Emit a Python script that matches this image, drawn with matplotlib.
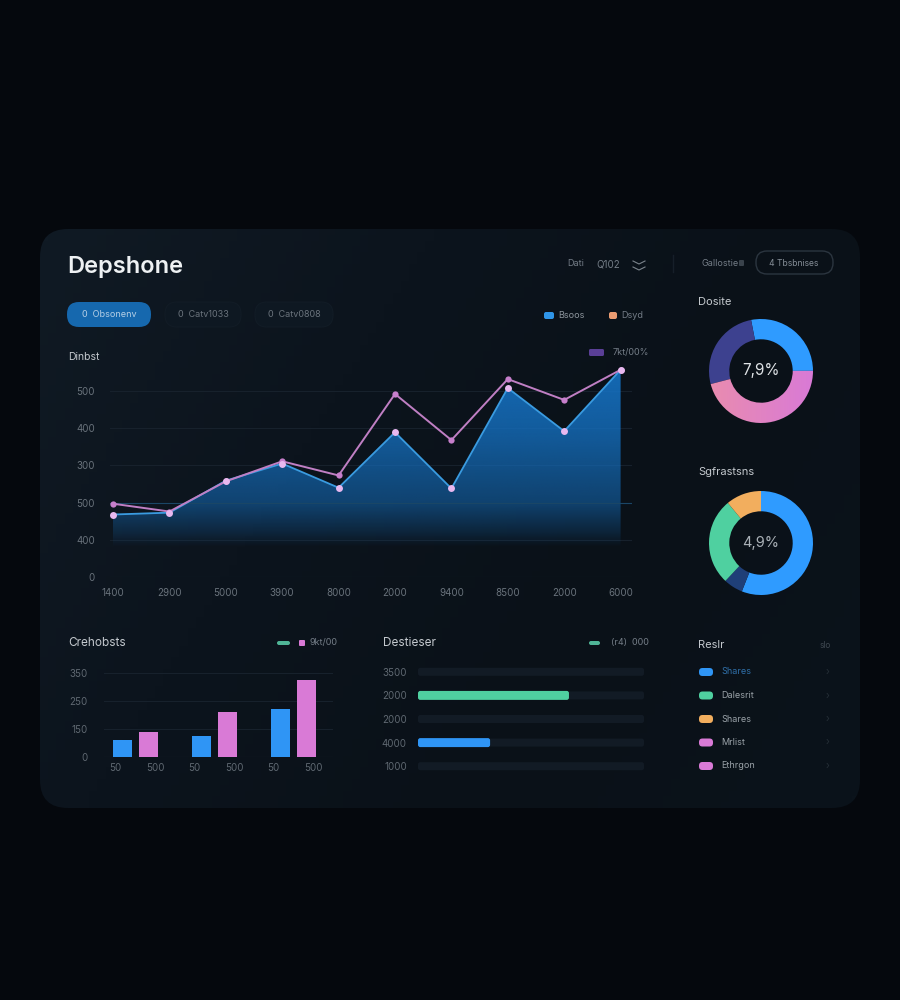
import numpy as np
import matplotlib
matplotlib.use("Agg")
import matplotlib.pyplot as plt
from matplotlib.colors import LinearSegmentedColormap, to_rgb
from matplotlib.patches import FancyBboxPatch, Polygon

plt.rcParams['font.family'] = ['Inter', 'DejaVu Sans']

# main chart
x_labels = ["1400", "2900", "5000", "3900", "8000", "2000", "9400", "8500", "2000", "6000"]
area_values = [168, 173, 259, 305, 240, 389, 238, 508, 392, 557]
line_values = [197, 176, 257, 311, 273, 492, 368, 532, 476, 557]
y_ticks = [0, 100, 200, 300, 400, 500]
y_labels = ["0", "400", "500", "300", "400", "500"]

# grouped bars
bar_groups = [0, 1, 2]
bar_blue = [61, 75, 171]
bar_pink = [89, 161, 275]
bar_ticks = [0, 100, 200, 300]
bar_tick_labels = ["0", "150", "250", "350"]
bar_x_labels = ["50", "500", "50", "500", "50", "500"]

# horizontal bars
hbar_labels = ["3500", "2000", "2000", "4000", "1000"]
hbar_values = [0, 668, 0, 319, 0]
hbar_colors = [None, "#4fd0a0", None, "#2f95f5", None]

# donuts
donut1_values = [28, 46, 26]
donut2_values = [56, 6, 27, 11]
donut2_colors = ["#2f9bff", "#1f3f78", "#4fd0a0", "#f2ae5e"]

# list on the right
list_names = ["Shares", "Dalesrit", "Shares", "Mrlist", "Ethrgon"]
list_colors = ["#2f95f5", "#4fd0a0", "#f2ae5e", "#d97ad6", "#d97ad6"]
list_text_colors = ["#2f6fa8", "#9aa2a8", "#9aa2a8", "#9aa2a8", "#9aa2a8"]

BG = "#05080d"
TITLE = "#c4c9ce"
MUTED = "#747d87"
GRID = "#17212c"
W, H = 900, 1000


def px_axes(left, top, right, bottom):
    ax = fig.add_axes([left / W, 1 - bottom / H, (right - left) / W, (bottom - top) / H])
    ax.patch.set_alpha(0)
    for s in ax.spines.values():
        s.set_visible(False)
    return ax


def txt(x, y, s, size=7, color=MUTED, ha="left", weight="normal"):
    base.text(x, y, s, fontsize=size, color=color, ha=ha, va="center", fontweight=weight)


def box(x0, y0, x1, y1, color, r=2, edge="none", lw=0):
    p = FancyBboxPatch((x0, y0), x1 - x0, y1 - y0, boxstyle=f"round,pad=0,rounding_size={r}",
                       fc=color, ec=edge, lw=lw)
    base.add_patch(p)
    return p


fig = plt.figure(figsize=(W / 100, H / 100), dpi=100, facecolor=BG)

# background and panel
base = fig.add_axes([0, 0, 1, 1])
base.set_xlim(0, W)
base.set_ylim(H, 0)
base.axis("off")

panel = box(40, 229, 860, 808, "none", r=28)
cmap = LinearSegmentedColormap.from_list("panel", ["#101a24", "#0c141d", "#0a1118", "#0b131b"])
xx, yy = np.meshgrid(np.linspace(0, 1, 100), np.linspace(0, 1, 100))
im = base.imshow((xx * 0.7 + yy * 0.3), extent=(40, 860, 808, 229), cmap=cmap, aspect="auto", zorder=0)
im.set_clip_path(panel)
base.set_xlim(0, W)
base.set_ylim(H, 0)

# header
txt(67, 267, "Depshone", size=17, color="#eef1f3", weight="semibold")
txt(567, 264, "Dati", size=6.5)
txt(596, 264, "Q102", size=7)
base.plot([633, 639, 645], [261, 264, 261], color="#7b848d", lw=0.8)
base.plot([633, 639, 645], [267, 270, 267], color="#7b848d", lw=0.8)
base.plot([673, 673], [255, 272], color="#161f29", lw=1)
txt(702, 263, "Gallostie", size=6.5)
box(739, 260, 744, 266, "#3a434c", r=1)
box(756, 251, 833, 274, "none", r=11, edge="#2b353f", lw=1)
txt(794, 263, "4 Tbsbnises", size=6.2, ha="center", color="#858e97")

box(67, 302, 151, 327, "#1668ae", r=12)
txt(109, 314.5, "0  Obsonenv", size=6.5, ha="center", color="#b5cfe6")
box(165, 302, 241, 327, "#0e1822", r=12, edge="#121c26", lw=0.8)
txt(203, 314.5, "0  Catv1033", size=6.5, ha="center", color="#6a737c")
box(255, 302, 333, 327, "#0e1822", r=12, edge="#121c26", lw=0.8)
txt(294, 314.5, "0  Catv0808", size=6.5, ha="center", color="#6a737c")

box(544, 312, 554, 319, "#2f95e8", r=2)
txt(558, 315, "Bsoos", size=6.5, color="#8d959d")
box(609, 312, 617, 319, "#eb9c72", r=2)
txt(621, 315, "Dsyd", size=6.5)
box(589, 349, 604, 356, "#5a3f96", r=1.5)
txt(613, 352, "7kt/00%", size=6.5)

txt(68, 357, "Dinbst", size=7.5, color=TITLE)
txt(698, 302, "Dosite", size=8, color=TITLE)
txt(698, 472, "Sgfrastsns", size=8, color=TITLE)
txt(68, 643, "Crehobsts", size=8.5, color=TITLE)
txt(383, 643, "Destieser", size=8.5, color=TITLE)
txt(698, 645, "Reslr", size=8, color=TITLE)
txt(831, 645, "slo", size=6, color="#3f4851", ha="right")

# main area chart
ax = px_axes(110, 360, 632, 577)
x = np.arange(len(area_values))
ax.set_xlim(-3 / 56.4, 519 / 56.4)
ax.set_ylim(0, 217 / 37.2 * 100)
ax.set_xticks(x, x_labels)
ax.set_yticks(y_ticks, y_labels)
ax.tick_params(length=0, labelsize=7, labelcolor="#69727b")
ax.tick_params(axis="x", pad=8)
ax.tick_params(axis="y", pad=11)
for t in y_ticks:
    ax.axhline(t, color="#1b2c3a" if t == 0 else GRID, lw=0.8, zorder=1)

poly = Polygon(np.vstack([[x[0], 0], np.column_stack([x, area_values]), [x[-1], 0]]),
               closed=True, fc="none", ec="none", transform=ax.transData)
ax.add_patch(poly)
grad = np.zeros((256, 2, 4))
grad[:, :, :3] = to_rgb("#1570c0")
levels = np.linspace(580, 0, 256)
grad[:, :, 3] = np.interp(levels, [80, 120, 200, 400, 580], [0, 0.2, 0.52, 0.8, 0.95])[:, None]
area_im = ax.imshow(grad, extent=(x[0], x[-1], 0, 580), origin="upper", aspect="auto", zorder=2)
area_im.set_clip_path(poly)
ax.set_xlim(-3 / 56.4, 519 / 56.4)
ax.set_ylim(0, 217 / 37.2 * 100)
ax.axhline(200, color="#1a4666", lw=0.8, zorder=3)

ax.plot(x, area_values, color="#3a9be0", lw=1.3, zorder=4)
ax.plot(x, line_values, color="#c07fc4", lw=1.4, zorder=5, marker="o", ms=4.5,
        mfc="#c77fcc", mec="none")
ax.plot(x, area_values, ls="none", marker="o", ms=5, mfc="#e8b8ef", mec="none", zorder=6)

# grouped bars
bx = px_axes(104, 665, 333, 757)
bx.set_xlim(-31 / 79, 198 / 79)
bx.set_ylim(0, 92 / 28 * 100)
blue_x = [g - 13 / 79 for g in bar_groups]
pink_x = [g + 13 / 79 for g in bar_groups]
bx.bar(blue_x, bar_blue, width=19 / 79, color="#2f95f5", zorder=3)
bx.bar(pink_x, bar_pink, width=19 / 79, color="#d97ad6", zorder=3)
tick_x = sorted([g - 20 / 79 for g in bar_groups] + [g + 20 / 79 for g in bar_groups])
bx.set_xticks(tick_x, bar_x_labels)
bx.set_yticks(bar_ticks, bar_tick_labels)
bx.tick_params(length=0, labelsize=7, labelcolor="#5f6871")
bx.tick_params(axis="x", pad=4)
bx.tick_params(axis="y", pad=12)
for t in bar_ticks:
    bx.axhline(t, color="#202b36" if t == 0 else GRID, lw=0.8, zorder=1)

box(277, 641, 290, 645, "#4fb596", r=2)
box(299, 640, 305, 646, "#d97ad6", r=1)
txt(310, 643, "9kt/00", size=6.5)

# horizontal bars
hx = px_axes(418, 660, 644, 778)
hx.set_xlim(0, 1000)
hx.set_ylim(len(hbar_values) - 0.5, -0.5)
hx.set_xticks([])
hx.set_yticks(range(len(hbar_labels)), hbar_labels)
hx.tick_params(length=0, labelsize=7, labelcolor="#5f6871", pad=8)
aspect = (226 / 1000) / (118 / len(hbar_values))
for i, v in enumerate(hbar_values):
    hx.add_patch(FancyBboxPatch((0, i - 0.17), 1000, 0.34, boxstyle="round,pad=0,rounding_size=10",
                                mutation_aspect=aspect, fc="#121b25", ec="none"))
    if v > 0:
        hx.add_patch(FancyBboxPatch((0, i - 0.19), v, 0.38, boxstyle="round,pad=0,rounding_size=10",
                                    mutation_aspect=aspect, fc=hbar_colors[i], ec="none"))

box(589, 641, 600, 645, "#4fb596", r=2)
txt(611, 643, "(r4)  000", size=6.5)

# first donut
d1 = px_axes(709, 319, 813, 423)
wedges, _ = d1.pie(donut1_values, startangle=101, counterclock=False, radius=1,
                   colors=["#2f9bff", "none", "#3d418f"],
                   wedgeprops={"width": 0.39, "linewidth": 0})
xx, yy = np.meshgrid(np.linspace(0, 1, 64), np.linspace(0, 1, 64))
pink_cmap = LinearSegmentedColormap.from_list("pk", ["#e98caf", "#d97ad6"])
pink_im = d1.imshow(xx, extent=(-1, 1, -1, 1), cmap=pink_cmap, zorder=3)
pink_im.set_clip_path(wedges[1])
d1.set_xlim(-1, 1)
d1.set_ylim(-1, 1)
d1.text(0, 0, "7,9%", color="#dfe3e6", fontsize=11, ha="center", va="center")

# second donut
d2 = px_axes(709, 491, 813, 595)
d2.pie(donut2_values, startangle=90, counterclock=False, radius=1, colors=donut2_colors,
       wedgeprops={"width": 0.39, "linewidth": 0})
d2.set_xlim(-1, 1)
d2.set_ylim(-1, 1)
d2.text(0, 0, "4,9%", color="#aab1b7", fontsize=10.5, ha="center", va="center")

# list
for i, name in enumerate(list_names):
    y = 672 + i * 23.5
    box(699, y - 4, 713, y + 4, list_colors[i], r=3.5)
    txt(721, y, name, size=6.5, color=list_text_colors[i])
    txt(826, y, "›", size=7, color="#252e37")

fig.savefig("out.png", dpi=100, facecolor=BG)
